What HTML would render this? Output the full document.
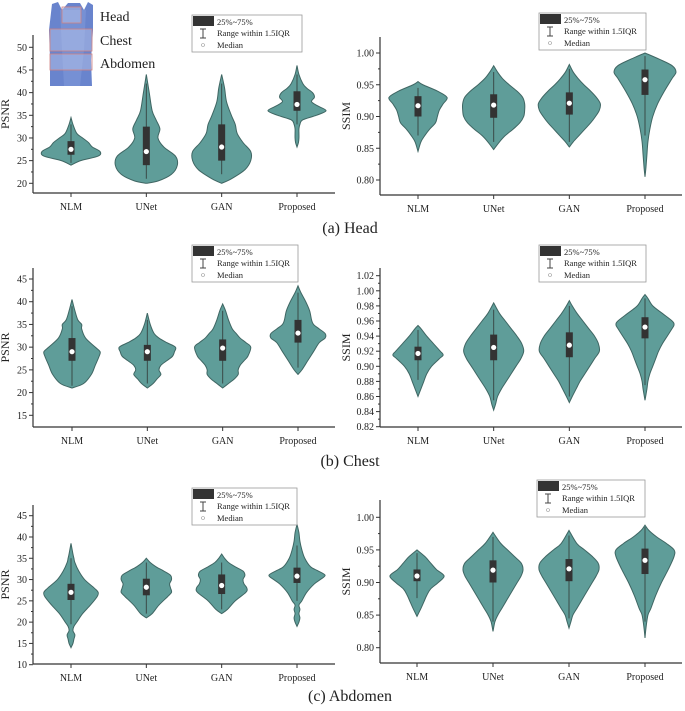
<!DOCTYPE html>
<html><head><meta charset="utf-8"><style>
html,body{margin:0;padding:0;background:#fff}
svg{display:block}
text{font-family:"Liberation Serif",serif;fill:#222}
</style></head><body>
<svg id="fig" width="685" height="711" viewBox="0 0 685 711" xmlns="http://www.w3.org/2000/svg">
<g>
  <path d="M52,4 L58,2 L62,10 L68,3 L80,3 L84,10 L88,2 L93,5 L93,30 L91,60 L92,86 L50,86 L50,58 L49,30 Z" fill="#4f6fc4" opacity="0.85"/>
  <path d="M60,10 L86,10 L84,50 L80,86 L64,86 L62,50 Z" fill="#7f98d8" opacity="0.6"/>
  <rect x="62" y="7" width="19" height="16" fill="#c8d2f0" fill-opacity="0.4" stroke="#d08080" stroke-width="0.8"/>
  <rect x="50" y="29" width="42" height="22" fill="#c8d2f0" fill-opacity="0.4" stroke="#d08080" stroke-width="0.8"/>
  <rect x="50" y="54" width="42" height="16" fill="#c8d2f0" fill-opacity="0.4" stroke="#d08080" stroke-width="0.8"/>
  <text x="100" y="21" font-size="14">Head</text>
  <text x="100" y="45" font-size="14">Chest</text>
  <text x="100" y="68" font-size="14">Abdomen</text>
</g>
<text x="350" y="233" font-size="16" text-anchor="middle">(a) Head</text>
<text x="350" y="466" font-size="16" text-anchor="middle">(b) Chest</text>
<text x="350" y="701" font-size="16" text-anchor="middle">(c) Abdomen</text>
</svg>
<script>
const categories = ["NLM","UNet","GAN","Proposed"];

// Violin density profiles: levels (metric values) and relative density
const headPsnrLevels = [
 [24,25,26,27,28,29,30,31,33,34.5],
 [20,20.5,22,24,26,28,30,32,34,36,40,44],
 [20,21,23,25,27,29,31,33,35,38,41,44],
 [28,29,30,31,32,33,34,35,36,37,38,39,40,41,42,44,46]];
const headPsnrDensity = [
 [0,10,28,30,22,18,12,6,2,0],
 [0,12,26,32,30,18,12,14,10,6,3,0],
 [0,10,24,30,30,22,16,14,10,5,3,0],
 [0,1.5,2,2,2,3,6,20,30,22,15,18,16,10,6,2,0]];
const headPsnrBox = [[26.3,29.3],[24,32.5],[25,33],[36,40.3]];
const headPsnrMedian = [27.5,27,28,37.4];
const headPsnrWhisker = [[24.5,33],[21,42],[22,42],[33,44]];

const headSsimLevels = [
 [.845,.86,.87,.88,.89,.90,.91,.92,.93,.94,.95,.955],
 [.848,.86,.87,.88,.89,.90,.91,.92,.93,.94,.95,.96,.97,.98],
 [.852,.86,.87,.88,.89,.90,.91,.92,.93,.94,.95,.96,.97,.982],
 [.805,.82,.84,.86,.88,.90,.92,.94,.96,.97,.98,.99,1.0]];
const headSsimDensity = [
 [0,3,7,12,18,20,22,26,30,20,5,0],
 [0,6,12,20,27,31,32,32,30,24,16,9,4,0],
 [0,4,10,16,22,27,31,32,28,22,15,9,4,0],
 [0,1,2,3,5,8,13,20,28,32,28,15,0]];
const headSsimBox = [[.90,.932],[.898,.935],[.903,.938],[.934,.974]];
const headSsimMedian = [.917,.918,.921,.958];
const headSsimWhisker = [[.87,.945],[.86,.97],[.86,.975],[.87,.995]];

const chestPsnrLevels = [
 [21,22,24,26,28,29,30,32,34,35,36,38,40.5],
 [21,22,23,24,25,26,27,28,29,30,31,32,33,35,37.5],
 [21,22,23,24,25,26,27,28,30,31,32,33,34,36,38,39.5],
 [24,25,27,29,31,32,33,34,35,36,38,40,42,43.5]];
const chestPsnrDensity = [
 [0,12,20,24,28,29,24,14,10,10,6,3,0],
 [0,6,10,14,12,14,20,26,28,29,20,12,7,3,0],
 [0,6,12,16,16,18,22,26,29,24,18,14,10,6,3,0],
 [0,4,10,16,22,28,28,22,16,14,12,8,3,0]];
const chestPsnrBox = [[27,32],[27,30.5],[27,31.7],[31,36]];
const chestPsnrMedian = [29,29,29.8,33.1];
const chestPsnrWhisker = [[21.5,39],[22,36],[22,38],[25.5,42]];

const chestSsimLevels = [
 [.86,.87,.88,.89,.90,.91,.915,.92,.93,.94,.95,.954],
 [.842,.85,.86,.87,.88,.89,.90,.91,.92,.93,.94,.95,.96,.97,.984],
 [.852,.86,.87,.88,.89,.90,.91,.92,.93,.94,.95,.96,.97,.98,.987],
 [.855,.87,.88,.89,.90,.91,.92,.93,.94,.95,.955,.96,.97,.98,.99,.995]];
const chestSsimDensity = [
 [0,3,6,9,14,22,26,23,16,9,3,0],
 [0,2,4,8,13,18,23,28,31,29,24,18,12,6,0],
 [0,3,7,11,16,21,26,31,30,26,20,14,8,3,0],
 [0,2,3,5,8,11,14,18,23,28,30,28,18,8,3,0]];
const chestSsimBox = [[.908,.926],[.908,.942],[.912,.945],[.937,.965]];
const chestSsimMedian = [.917,.925,.928,.952];
const chestSsimWhisker = [[.882,.948],[.855,.975],[.86,.98],[.875,.99]];

const abdPsnrLevels = [
 [14,15,16,17,18,19,20,22,24,26,27,28,30,32,34,35,36,38.5],
 [21,22,24,26,27,28,29,30,31,32,33,34,35],
 [22,23,25,27,28,29,30,31,32,33,34,35,36],
 [19,20,21,22,23,24,25,27,29,30,31,32,33,35,37,39,41,43]];
const abdPsnrDensity = [
 [0,2,3,4,2,3,6,12,20,27,28,24,14,8,4,3,2,0],
 [0,6,13,22,26,25,24,26,25,18,10,4,0],
 [0,6,14,25,26,23,22,24,22,14,7,3,0],
 [0,2,3,2,3,2,5,10,18,24,29,22,14,8,5,3,2,0]];
const abdPsnrBox = [[25.2,29],[26.3,30.2],[26.6,31.2],[29.2,32.8]];
const abdPsnrMedian = [27,28.2,28.6,30.8];
const abdPsnrWhisker = [[19.5,35],[22,34],[23,34],[25,38]];

const abdSsimLevels = [
 [.848,.86,.87,.88,.89,.90,.91,.92,.93,.94,.95],
 [.825,.84,.85,.86,.87,.88,.89,.90,.91,.92,.93,.94,.95,.96,.977],
 [.83,.84,.85,.86,.87,.88,.89,.90,.91,.92,.93,.94,.95,.96,.98],
 [.815,.83,.85,.86,.88,.90,.92,.94,.95,.96,.97,.98,.988]];
const abdSsimDensity = [
 [0,4,7,10,14,22,28,20,14,8,0],
 [0,2,5,9,13,17,21,25,29,31,29,22,15,8,0],
 [0,2,4,8,12,16,20,24,28,31,30,24,16,8,0],
 [0,1,3,6,11,17,24,30,30,22,12,4,0]];
const abdSsimBox = [[.902,.92],[.90,.934],[.902,.936],[.913,.952]];
const abdSsimMedian = [.91,.919,.921,.934];
const abdSsimWhisker = [[.876,.945],[.84,.97],[.845,.972],[.84,.985]];

const psnrTicksHead = [20,25,30,35,40,45,50];
const ssimTicksHead = [0.80,0.85,0.90,0.95,1.00];
const psnrTicksChest = [15,20,25,30,35,40,45];
const ssimTicksChest = [0.82,0.84,0.86,0.88,0.90,0.92,0.94,0.96,0.98,1.00,1.02];
const psnrTicksAbd = [10,15,20,25,30,35,40,45];
const ssimTicksAbd = [0.80,0.85,0.90,0.95,1.00];

const NS="http://www.w3.org/2000/svg";
const svg=document.getElementById('fig');
function mk(tag,attrs,parent){const e=document.createElementNS(NS,tag);for(const k in attrs)e.setAttribute(k,attrs[k]);(parent||svg).appendChild(e);return e;}

function smoothPath(pts){
  let d="M"+pts[0][0].toFixed(2)+","+pts[0][1].toFixed(2);
  for(let i=0;i<pts.length-1;i++){
    const p0=pts[Math.max(0,i-1)],p1=pts[i],p2=pts[i+1],p3=pts[Math.min(pts.length-1,i+2)];
    const c1=[p1[0]+(p2[0]-p0[0])/6,p1[1]+(p2[1]-p0[1])/6];
    const c2=[p2[0]-(p3[0]-p1[0])/6,p2[1]-(p3[1]-p1[1])/6];
    d+=" C"+c1[0].toFixed(2)+","+c1[1].toFixed(2)+" "+c2[0].toFixed(2)+","+c2[1].toFixed(2)+" "+p2[0].toFixed(2)+","+p2[1].toFixed(2);
  }
  return d;
}

function panel(cfg){
  const g=mk('g',{});
  
  
  const v0=cfg.v0,v1=cfg.v1;
  const yS=v=>cfg.y0+(v-v0)*(cfg.y1-cfg.y0)/(v1-v0);
  const xS=i=>cfg.xc0+i*(cfg.xc3-cfg.xc0)/3;
  const halfScale=31/32;
  // violins
  categories.forEach((c,i)=>{
    const vg=mk('g',{},g);
    
    
    const L=cfg.levels[i],D=cfg.dens[i],cx=xS(i);
    const right=L.map((v,k)=>[cx+D[k]*halfScale,yS(v)]);
    const left=L.map((v,k)=>[cx-D[k]*halfScale,yS(v)]).reverse();
    const d=smoothPath(right)+" "+smoothPath(left).replace("M","L")+" Z";
    mk('path',{d:d,fill:'#5f9d99',stroke:'#3f6663','stroke-width':'1'},vg);
    mk('line',{x1:cx,x2:cx,y1:yS(cfg.whisk[i][0]),y2:yS(cfg.whisk[i][1]),stroke:'#3a4a48','stroke-width':'1'},vg);
    mk('rect',{x:cx-3.5,y:yS(cfg.box[i][1]),width:7,height:yS(cfg.box[i][0])-yS(cfg.box[i][1]),fill:'#333'},vg);
    mk('circle',{cx:cx,cy:yS(cfg.med[i]),r:2.6,fill:'#fff'},vg);
  });
  // axes
  mk('line',{x1:cfg.ax,x2:cfg.ax,y1:cfg.top,y2:cfg.bottom,stroke:'#333','stroke-width':'1.2'},g);
  mk('line',{x1:cfg.ax,x2:cfg.right,y1:cfg.bottom,y2:cfg.bottom,stroke:'#333','stroke-width':'1.2'},g);
  cfg.ticks.forEach((t,k)=>{
    const y=yS(t);
    mk('line',{x1:cfg.ax-4,x2:cfg.ax,y1:y,y2:y,stroke:'#333','stroke-width':'1'},g);
    if(k<cfg.ticks.length-1){const ym=yS((t+cfg.ticks[k+1])/2);mk('line',{x1:cfg.ax-2,x2:cfg.ax,y1:ym,y2:ym,stroke:'#333','stroke-width':'1'},g);}
    const tx=mk('text',{x:cfg.ax-6,y:y+3.5,'font-size':'10','text-anchor':'end'},g);
    
    
    tx.textContent=cfg.fmt(t);
  });
  categories.forEach((c,i)=>{
    const x=xS(i);
    mk('line',{x1:x,x2:x,y1:cfg.bottom,y2:cfg.bottom+4,stroke:'#333','stroke-width':'1'},g);
    const tx=mk('text',{x:x,y:cfg.bottom+17,'font-size':'10','text-anchor':'middle'},g);
    
    
    tx.textContent=c;
  });
  const yl=mk('text',{x:0,y:0,'font-size':'12','text-anchor':'middle',transform:'translate('+(cfg.ax-cfg.labOff)+','+((cfg.top+cfg.bottom)/2)+') rotate(-90)'},g);
  
  
  yl.textContent=cfg.ylabel;
  // legend
  const lg=mk('g',{},g);
  
  
  const lx=cfg.lx,ly=cfg.ly;
  mk('rect',{x:lx,y:ly,width:cfg.lw,height:37,fill:'#fff',stroke:'#999','stroke-width':'0.8'},lg);
  mk('rect',{x:lx+1,y:ly+1,width:21,height:10,fill:'#333'},lg);
  const t1=mk('text',{x:lx+25,y:ly+10,'font-size':'8.5'},lg);t1.textContent='25%~75%';
  mk('line',{x1:lx+11,x2:lx+11,y1:ly+14,y2:ly+23,stroke:'#444','stroke-width':'1'},lg);
  mk('line',{x1:lx+8,x2:lx+14,y1:ly+14,y2:ly+14,stroke:'#444','stroke-width':'1'},lg);
  mk('line',{x1:lx+8,x2:lx+14,y1:ly+23,y2:ly+23,stroke:'#444','stroke-width':'1'},lg);
  const t2=mk('text',{x:lx+25,y:ly+21,'font-size':'8.5'},lg);t2.textContent='Range within 1.5IQR';
  mk('circle',{cx:lx+11,cy:ly+30,r:1.5,fill:'#fff',stroke:'#999','stroke-width':'0.6'},lg);
  const t3=mk('text',{x:lx+25,y:ly+33,'font-size':'8.5'},lg);t3.textContent='Median';
}
const f0=t=>String(t), f2=t=>t.toFixed(2);
panel({name:'head-psnr-chart',v0:50,v1:20,y0:47.3,y1:183.3,xc0:71,xc3:297,ax:33,top:35,bottom:193,right:335,ticks:psnrTicksHead,fmt:f0,ylabel:'PSNR',labOff:24,levels:headPsnrLevels,dens:headPsnrDensity,box:headPsnrBox,med:headPsnrMedian,whisk:headPsnrWhisker,lx:192,ly:15,lw:110});
panel({name:'head-ssim-chart',v0:1.0,v1:0.8,y0:53,y1:180,xc0:418,xc3:645,ax:380,top:37,bottom:195,right:682,ticks:ssimTicksHead,fmt:f2,ylabel:'SSIM',labOff:30,levels:headSsimLevels,dens:headSsimDensity,box:headSsimBox,med:headSsimMedian,whisk:headSsimWhisker,lx:539,ly:13,lw:107});
panel({name:'chest-psnr-chart',v0:45,v1:15,y0:279,y1:415.3,xc0:72,xc3:298,ax:33,top:268,bottom:427,right:335,ticks:psnrTicksChest,fmt:f0,ylabel:'PSNR',labOff:24,levels:chestPsnrLevels,dens:chestPsnrDensity,box:chestPsnrBox,med:chestPsnrMedian,whisk:chestPsnrWhisker,lx:192,ly:245,lw:106});
panel({name:'chest-ssim-chart',v0:1.02,v1:0.82,y0:275.7,y1:426.7,xc0:418,xc3:645,ax:380,top:268,bottom:427,right:682,ticks:ssimTicksChest,fmt:f2,ylabel:'SSIM',labOff:30,levels:chestSsimLevels,dens:chestSsimDensity,box:chestSsimBox,med:chestSsimMedian,whisk:chestSsimWhisker,lx:539,ly:245,lw:107});
panel({name:'abdomen-psnr-chart',v0:45,v1:10,y0:515.7,y1:664.7,xc0:71,xc3:297,ax:33,top:505,bottom:664,right:335,ticks:psnrTicksAbd,fmt:f0,ylabel:'PSNR',labOff:24,levels:abdPsnrLevels,dens:abdPsnrDensity,box:abdPsnrBox,med:abdPsnrMedian,whisk:abdPsnrWhisker,lx:192,ly:488,lw:105});
panel({name:'abdomen-ssim-chart',v0:1.0,v1:0.8,y0:517.3,y1:647.7,xc0:417,xc3:645,ax:380,top:500,bottom:663,right:682,ticks:ssimTicksAbd,fmt:f2,ylabel:'SSIM',labOff:30,levels:abdSsimLevels,dens:abdSsimDensity,box:abdSsimBox,med:abdSsimMedian,whisk:abdSsimWhisker,lx:537,ly:480,lw:108});
</script>
</body></html>
